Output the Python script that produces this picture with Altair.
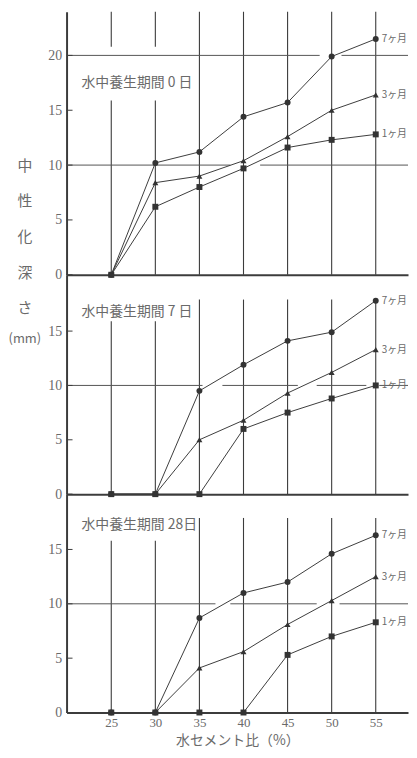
import altair as alt
import pandas as pd

# ---------------- data ----------------
wc = [25, 30, 35, 40, 45, 50, 55]
series_names = ["7ヶ月", "3ヶ月", "1ヶ月"]
series_shapes = ["circle", "triangle-up", "square"]

panel_titles = ["水中養生期間 0 日", "水中養生期間 7 日", "水中養生期間 28日"]

p0_7 = [0, 10.2, 11.2, 14.4, 15.7, 19.9, 21.5]
p0_3 = [0, 8.4, 9.0, 10.4, 12.6, 15.0, 16.4]
p0_1 = [0, 6.2, 8.0, 9.7, 11.6, 12.3, 12.8]

p7_7 = [0, 0, 9.5, 11.9, 14.1, 14.9, 17.8]
p7_3 = [0, 0, 5.0, 6.8, 9.3, 11.2, 13.3]
p7_1 = [0, 0, 0, 6.0, 7.5, 8.8, 10.0]

p28_7 = [0, 0, 8.7, 11.0, 12.0, 14.6, 16.3]
p28_3 = [0, 0, 4.1, 5.6, 8.1, 10.3, 12.5]
p28_1 = [0, 0, 0, 0, 5.3, 7.0, 8.3]

panel_series = [[p0_7, p0_3, p0_1], [p7_7, p7_3, p7_1], [p28_7, p28_3, p28_1]]

y_ticks = [[0, 5, 10, 15, 20], [0, 5, 10, 15], [0, 5, 10, 15]]
grid_vals = [[20, 10], [10], [10]]

y_title_chars = ["中", "性", "化", "深", "さ", "(mm)"]
x_title = "水セメント比（%）"

# ---------------- styling ----------------
W = 344
heights = [265, 221, 220]
ymax = [23.98, 20.18, 20.09]
xdom = [19.93, 58.66]
INK = "#3c3c3c"
TXT = "#6a6a6a"
JP = "Noto Sans CJK JP"
SERIF = "Liberation Serif"

grid_dash = {
    (0, 20): [255, 22],
    (0, 10): [165, 30],
    (1, 10): [137, 20, 76, 19, 50, 13],
    (2, 10): [150, 15, 87, 23],
}
# vertical guide segments (wc, from, to) per panel
vseg = [
    [(25, 0, 15.9), (25, 20.8, 23.98), (30, 0, 15.9), (30, 20.8, 23.98)]
    + [(x, 0, 23.98) for x in wc[2:]],
    [(25, 0, 15.9), (30, 0, 15.9)] + [(x, 0, 17.9) for x in wc[2:]],
    [(25, 0, 15.8), (30, 0, 15.8)] + [(x, 0, 17.9) for x in wc[2:]],
]
title_y = [72, 38, 31]


def make_panel(i):
    rows = []
    for name, vals in zip(series_names, panel_series[i]):
        for x, v in zip(wc, vals):
            rows.append({"wc": x, "depth": v, "series": name})
    df = pd.DataFrame(rows)
    last = df[df["wc"] == wc[-1]]

    xs = alt.Scale(domain=xdom, nice=False, zero=False)
    ys = alt.Scale(domain=[0, ymax[i]], nice=False, zero=False)

    if i == 2:
        xaxis = alt.Axis(values=wc, title=x_title, grid=False, ticks=False,
                         domainColor=INK, domainWidth=2,
                         labelFont=SERIF, labelFontSize=13, labelColor=TXT,
                         labelPadding=4, titleFont=JP, titleFontSize=14,
                         titleFontWeight="normal", titleColor=TXT, titlePadding=4)
    else:
        xaxis = alt.Axis(labels=False, ticks=False, title=None, grid=False,
                         domainColor=INK, domainWidth=2)
    yaxis = alt.Axis(values=y_ticks[i], title=None, grid=False, ticks=False,
                     domainColor=INK, domainWidth=2, labelFont=SERIF,
                     labelFontSize=14, labelColor=TXT, labelPadding=5)

    base = alt.Chart(df)

    # vertical guide lines
    vdf = pd.DataFrame(vseg[i], columns=["wc", "y0", "y1"])
    vlines = alt.Chart(vdf).mark_rule(color=INK, strokeWidth=1.1).encode(
        x=alt.X("wc:Q", scale=xs, axis=xaxis),
        y=alt.Y("y0:Q", scale=ys, axis=yaxis),
        y2="y1:Q",
    )
    layers = [vlines]

    # horizontal broken guide lines
    for g in grid_vals[i]:
        gdf = pd.DataFrame({"g": [g]})
        layers.append(
            alt.Chart(gdf).mark_rule(color="#555555", strokeWidth=1,
                                     strokeDash=grid_dash[(i, g)]).encode(
                y=alt.Y("g:Q", scale=ys), x=alt.value(0), x2=alt.value(W))
        )

    # inner ticks
    tdf = pd.DataFrame({"t": y_ticks[i]})
    layers.append(
        alt.Chart(tdf).mark_rule(color=INK, strokeWidth=1).encode(
            y=alt.Y("t:Q", scale=ys), x=alt.value(0), x2=alt.value(6))
    )

    # series lines and markers
    layers.append(
        base.mark_line(color=INK, strokeWidth=1).encode(
            x=alt.X("wc:Q", scale=xs), y=alt.Y("depth:Q", scale=ys),
            detail="series:N")
    )
    layers.append(
        base.mark_point(filled=True, color="#333333", size=36, opacity=1).encode(
            x=alt.X("wc:Q", scale=xs), y=alt.Y("depth:Q", scale=ys),
            shape=alt.Shape("series:N",
                            scale=alt.Scale(domain=series_names, range=series_shapes),
                            legend=None))
    )
    # end labels
    layers.append(
        alt.Chart(last).mark_text(align="left", baseline="middle", dx=6,
                                  font=JP, fontSize=10, color=TXT).encode(
            x=alt.X("wc:Q", scale=xs), y=alt.Y("depth:Q", scale=ys),
            text="series:N")
    )
    # panel title
    layers.append(
        alt.Chart(pd.DataFrame({"t": [panel_titles[i]]})).mark_text(
            align="left", baseline="middle", font=JP, fontSize=14, color=TXT
        ).encode(x=alt.value(15), y=alt.value(title_y[i]), text="t:N")
    )

    if i == 0:
        ydf = pd.DataFrame({"c": y_title_chars,
                            "k": list(range(len(y_title_chars)))})
        layers.append(
            alt.Chart(ydf).transform_calculate(
                py="155 + datum.k * 36 - (datum.k == 5 ? 5 : 0)",
                fs="datum.k == 5 ? 13 : 15",
            ).mark_text(align="center", baseline="middle", font=JP,
                        color=TXT).encode(
                x=alt.value(-42), y=alt.Y("py:Q", scale=None), text="c:N",
                size=alt.Size("fs:Q", scale=None, legend=None))
        )
        # invisible anchor fixing the left edge of the drawing
        layers.append(
            alt.Chart(pd.DataFrame({"a": [0]})).mark_rule(
                strokeOpacity=0, opacity=0).encode(
                x=alt.value(-57), x2=alt.value(-56), y=alt.value(0))
        )

    return alt.layer(*layers).properties(width=W, height=heights[i])


chart = alt.vconcat(make_panel(0), make_panel(1), make_panel(2),
                    spacing=0, bounds="flush").properties(
    padding={"left": 0, "top": 0, "right": 0, "bottom": 0},
    background="white",
).resolve_scale(y="independent").configure_view(stroke=None)

chart.save("out.html", embed_options={"renderer": "svg", "actions": False})
